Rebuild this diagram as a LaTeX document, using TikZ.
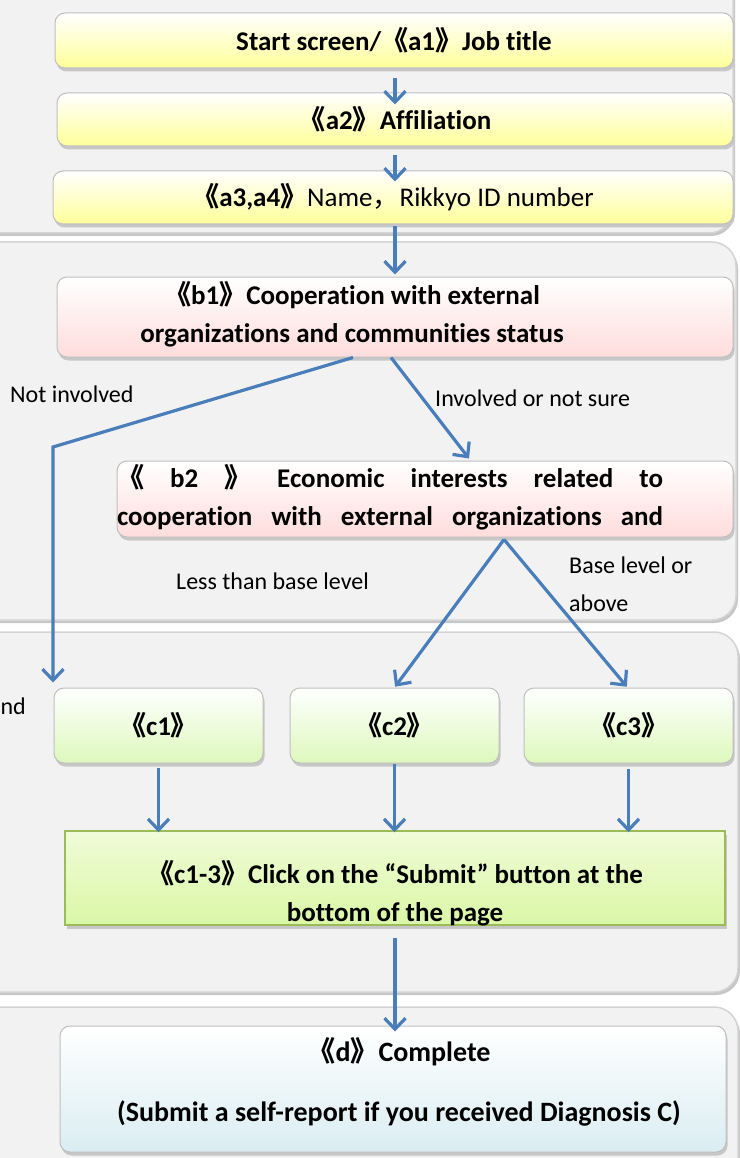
\documentclass[tikz,border=0pt]{standalone}
\usepackage{fontspec}
\setmainfont{Carlito}[Ligatures=NoCommon]
\newfontfamily\cjk{Noto Sans CJK JP}
\usetikzlibrary{arrows.meta,shadows}

\definecolor{flowblue}{HTML}{4A7EBB}
\definecolor{panelgray}{HTML}{F2F2F2}
\definecolor{panelline}{HTML}{D4D4D4}
\definecolor{boxline}{HTML}{BFBFBF}
\definecolor{yellowbot}{HTML}{FFFF99}
\definecolor{pinkbot}{HTML}{FFDCDC}
\definecolor{greenbot}{HTML}{DDF8BC}
\definecolor{limetop}{HTML}{F0FCD8}
\definecolor{limebot}{HTML}{DAF7A6}
\definecolor{limeline}{HTML}{9BBB59}
\definecolor{bluebot}{HTML}{DAEDF2}

\newcommand{\oang}{{\cjk 《}}
\newcommand{\cang}{{\cjk 》}}

\tikzset{
  panel/.style={fill=panelgray, draw=panelline, line width=1.5pt, rounded corners=24pt,
    drop shadow={shadow xshift=2pt, shadow yshift=-3pt, fill=black!22, opacity=1}},
  boxtext/.style={inner sep=0pt, align=center, font=\fontsize{27}{38}\selectfont\bfseries},
  box/.style={boxtext, draw=boxline, line width=1pt, rounded corners=10pt,
    drop shadow={shadow xshift=1.5pt, shadow yshift=-3.5pt, fill=black!22, opacity=1}},
  yellowbox/.style={box, top color=white, bottom color=yellowbot},
  pinkbox/.style={box, top color=white, bottom color=pinkbot},
  greenbox/.style={box, top color=white, bottom color=greenbot},
  bluebox/.style={box, top color=white, bottom color=bluebot},
  flow/.style={draw=flowblue, line width=3.2pt, -{Straight Barb[length=11pt,width=21pt]}},
  lbl/.style={font=\fontsize{24}{38}\selectfont, inner sep=0pt, align=left}
}

\begin{document}
\begin{tikzpicture}[x=1pt,y=-1pt]
\useasboundingbox (0,0) rectangle (739,1158);
\fill[white] (0,0) rectangle (739,1158);

% background panels
\draw[panel] (-40,-40) rectangle (733,233);
\draw[panel] (-40,242) rectangle (736,620);
\draw[panel] (-40,632) rectangle (738,992);
\draw[panel] (-40,1007) rectangle (738,1200);

% a boxes
            \node[yellowbox, minimum width=678pt, minimum height=55pt] at (394,40.5) (a1) {Start screen/\oang a1\cang Job title};
              \node[yellowbox, minimum width=676pt, minimum height=53pt] at (395,119.5) (a2) {\oang a2\cang Affiliation};
              \node[yellowbox, minimum width=680pt, minimum height=53pt] at (393,197.5) (a3) {\oang a3,a4\cang\mdseries Name{\cjk ，}Rikkyo ID number};
% b boxes
                \node[pinkbox, minimum width=676pt, minimum height=80pt] at (395,317) (b1) {};
                \node[boxtext] at (352,314) (b1t) {\oang b1\cang Cooperation with external\\organizations and communities status};
                \node[pinkbox, minimum width=616pt, minimum height=76pt] at (425,499) (b2) {};
                \node[boxtext] at (390,497.5) (b2t) {\makebox[546pt][s]{\oang{} b2 \cang{} Economic interests related to}\\\makebox[546pt][s]{cooperation with external organizations and}};
% c boxes
                  \node[greenbox, minimum width=209pt, minimum height=75pt] at (158.5,725.5) (c1) {\oang c1\cang};
                  \node[greenbox, minimum width=209pt, minimum height=75pt] at (394.5,725.5) (c2) {\oang c2\cang};
                  \node[greenbox, minimum width=209pt, minimum height=75pt] at (628.5,725.5) (c3) {\oang c3\cang};
                  \node[box, rounded corners=0pt, draw=limeline, line width=1.5pt, top color=limetop, bottom color=limebot, minimum width=660pt, minimum height=94pt] at (395,878) (c13) {};
                  \node[boxtext] at (395,893) (c13t) {\oang c1-3\cang Click on the “Submit” button at the\\bottom of the page};
% d box
                    \node[bluebox, minimum width=666pt, minimum height=126pt] at (393,1089) (d) {};
                    \node[boxtext, font=\fontsize{28}{38}\selectfont\bfseries] at (399,1082) (dt) {\oang d\cang Complete\\[22pt](Submit a self-report if you received Diagnosis C)};

% branch labels
\node[lbl, anchor=west] at (10,394) (notinv) {Not involved};
\node[lbl, anchor=west] at (435,398) (inv) {Involved or not sure};
\node[lbl, anchor=west] at (176,581) (less) {Less than base level};
\node[lbl, anchor=west] at (569,584) (base) {Base level or\\above};
\node[lbl, anchor=east] at (26,706) (andfrag) {and};

\coordinate (bend) at (53,447);
\coordinate (fork) at ([xshift=79pt,yshift=-2pt]b2.south);
%
\draw[flow, shorten <=10pt, shorten >=-12pt] (a1.south -| a2.north) -- (a2.north);
\draw[flow, shorten <=9pt, shorten >=-11pt] (a2.south) -- (a2.south |- a3.north);
\draw[flow, shorten <=2pt, shorten >=2pt] (a3.south -| b1.north) -- (b1.north);
\draw[flow] ([xshift=-4pt]b1.south) -- ([xshift=44pt,yshift=2pt]b2.north);
\draw[flow, shorten >=5pt] ([xshift=-42pt]b1.south) -- (bend) -- (bend |- c1.north);
\draw[flow, shorten >=1pt] (fork) -- (c2.north);
\draw[flow, shorten >=1pt] (fork) -- ([xshift=-1pt]c3.north);
\draw[flow, shorten <=4pt, shorten >=-2pt] (c1.south) -- (c1.south |- c13.north);
\draw[flow, shorten >=-2pt] (c2.south) -- (c2.south |- c13.north);
\draw[flow, shorten <=5pt, shorten >=-2pt] (c3.south) -- (c3.south |- c13.north);
\draw[flow, shorten <=12pt, shorten >=-6pt] (c13.south) -- (c13.south |- d.north);
%
\end{tikzpicture}
\end{document}
